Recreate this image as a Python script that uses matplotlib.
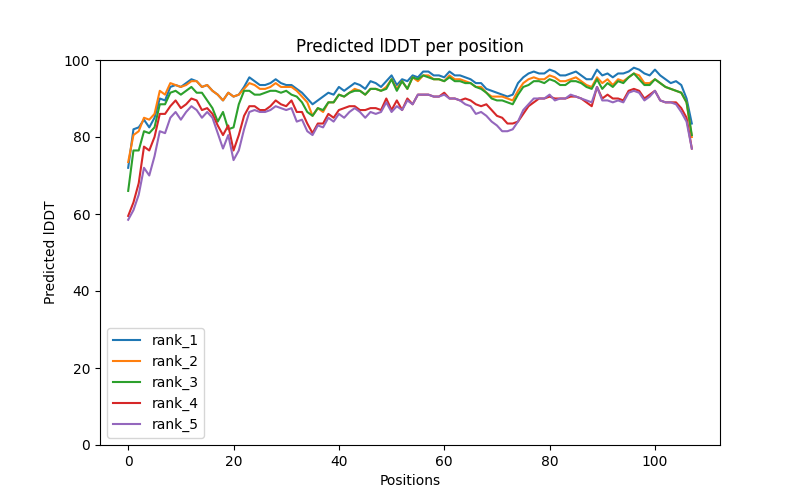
import numpy as np
import matplotlib
matplotlib.use("Agg")
import matplotlib.pyplot as plt

# per-position predicted lDDT for each ranked model
rank_1 = [72, 82, 82.5, 84.5, 82.5, 85, 90, 89.5, 93, 93.5,
          93, 94, 95, 94.5, 93, 93.5, 92, 91, 89.5, 91.5,
          90.5, 91, 93, 95.5, 94.5, 93.5, 93.5, 94, 95, 94,
          93.5, 93.5, 92.5, 91.5, 90, 88.5, 89.5, 90.5, 91.5, 91,
          93, 92, 93, 94, 93.5, 92.5, 94.5, 94, 93, 94.5,
          96, 93.5, 95, 94.5, 96, 95.5, 97, 97, 96, 96,
          95.5, 97, 96, 96, 95.5, 95, 94, 94, 92.5, 92,
          91.5, 91, 90.5, 91, 94, 95.5, 96.5, 97, 96.5, 96.5,
          97.5, 97, 96, 96, 96.5, 97, 96, 95, 95, 97.5,
          96, 96.5, 95.5, 96.5, 96.5, 97, 98, 97.5, 96.5, 96,
          97.5, 96, 95, 94, 94.5, 93.5, 90, 83.5]
rank_2 = [73.5, 80.5, 81.5, 85, 84.5, 86, 92, 91, 94, 93.5,
          93, 93.5, 94.5, 94.5, 93, 93.5, 92, 91, 89.5, 91.5,
          90.5, 91, 92.5, 94, 93.5, 92.5, 92.5, 93, 94, 93,
          93, 93, 92, 90.5, 89, 85.5, 87.5, 86.5, 89, 89,
          91, 90.5, 91.5, 92.5, 92, 91, 92.5, 92.5, 92, 93,
          95, 92.5, 94.5, 92.5, 95.5, 94.5, 96, 96, 95, 95,
          94.5, 96, 95, 95, 94.5, 94, 93, 93, 91.5, 90.5,
          90.5, 90.5, 90, 89.5, 92, 94, 95, 95.5, 95, 95,
          96, 95.5, 94.5, 94.5, 95, 95.5, 94.5, 93.5, 93, 95.5,
          94, 95, 93.5, 95, 94.5, 95.5, 96.5, 96, 94, 94,
          95, 94, 93, 92.5, 92, 91.5, 89, 80]
rank_3 = [66, 76.5, 76.5, 81.5, 81, 82.5, 88.5, 88.5, 91.5, 92,
          91, 92, 93, 91.5, 91.5, 89.5, 87.5, 84, 86.5, 82,
          82.5, 88.5, 92, 92, 91, 91, 91.5, 92, 92, 91.5,
          92, 91, 90.5, 89, 86.5, 85.5, 87.5, 87, 89, 89,
          91, 90.5, 91.5, 92, 92, 91, 92.5, 92.5, 92, 92.5,
          95, 92, 94.5, 92.5, 95.5, 95, 96, 95.5, 95, 95,
          94.5, 95.5, 94.5, 94.5, 94, 94, 93, 92.5, 91.5, 90,
          89.5, 89.5, 89, 88.5, 91, 93, 93.5, 94.5, 94.5, 94,
          95, 94.5, 93.5, 93.5, 94.5, 94.5, 94, 93, 92.5, 95,
          92.5, 94, 93, 94.5, 94, 95.5, 96.5, 95, 93.5, 93.5,
          95, 94, 93, 92.5, 92, 91.5, 89, 80.5]
rank_4 = [59.5, 63, 68, 77.5, 76.5, 80, 86, 86, 88, 89.5,
          87.5, 88.5, 90, 89.5, 87, 87.5, 86, 83, 80.5, 83,
          76.5, 80.5, 85.5, 88, 88, 87, 87, 88, 89.5, 88.5,
          88, 89.5, 86.5, 86.5, 83.5, 81, 83.5, 83.5, 86, 85,
          87, 87.5, 88, 88, 87, 87, 87.5, 87.5, 87, 90,
          87, 89.5, 87, 90, 88.5, 91, 91, 91, 90.5, 90.5,
          91.5, 90, 90, 89.5, 90, 89.5, 88.5, 88, 88.5, 87,
          85.5, 85, 83.5, 83.5, 84, 86, 88, 89, 90, 90,
          90.5, 90, 90, 90, 90.5, 90.5, 90, 89, 88, 93,
          90, 91, 90, 90, 89.5, 92, 92.5, 92, 90, 91,
          92, 89.5, 89, 89, 89, 87.5, 85, 77]
rank_5 = [58.5, 61, 65, 72, 70, 75, 81.5, 81, 85, 86.5,
          84.5, 86.5, 88, 87, 85, 86.5, 85, 81, 77, 80.5,
          74, 76.5, 82, 86.5, 87, 86.5, 86.5, 87, 88, 87.5,
          87, 87.5, 84, 84.5, 81.5, 80.5, 83, 82.5, 85, 84,
          86, 85, 86.5, 87.5, 86.5, 85, 86.5, 86, 86.5, 89,
          86.5, 88, 87, 89.5, 88.5, 91, 91, 91, 90.5, 90.5,
          91, 90, 90, 89.5, 88.5, 88, 86, 86.5, 85.5, 84,
          83, 81.5, 81.5, 82, 84, 87, 88.5, 90, 90, 90,
          91, 89.5, 90, 90, 91, 90.5, 90, 89.5, 89, 93,
          89.5, 89.5, 89, 89.5, 89, 91.5, 92, 91.5, 89.5, 90.5,
          92, 89.5, 89, 89, 88.5, 86.5, 84, 77]

series = {"rank_1": rank_1, "rank_2": rank_2, "rank_3": rank_3,
          "rank_4": rank_4, "rank_5": rank_5}

fig = plt.figure(figsize=(8, 5), dpi=100)
for name, vals in series.items():
    plt.plot(np.arange(len(vals)), vals, label=name)
plt.title("Predicted lDDT per position")
plt.xlabel("Positions")
plt.ylabel("Predicted lDDT")
plt.ylim(0, 100)
plt.legend(loc="lower left")
plt.savefig("out.png")
